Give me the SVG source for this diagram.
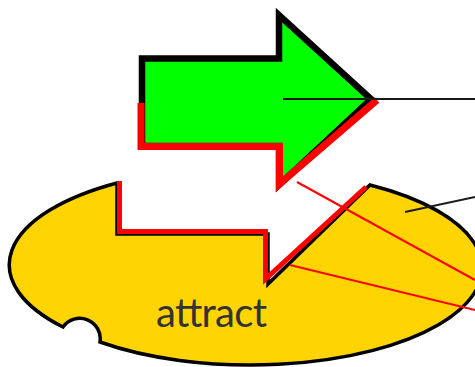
<svg xmlns="http://www.w3.org/2000/svg" width="475" height="367" viewBox="0 0 475 367">
  <style>
    .redline { fill: none; stroke: #ff0000; stroke-width: 2; }
    .blackline { fill: none; stroke: #1a1a1a; stroke-width: 1.8; }
    .label { font-family: Lato, "Open Sans", sans-serif; font-size: 40px; fill: #333333; }
  </style>
  <rect x="0" y="0" width="475" height="367" fill="#ffffff"/>
  <g id="node-ellipse">
    <path d="M370,185 A232,97 0 1 1 100,342 A20.5,20.5 0 0 0 63,327 A232,97 0 0 1 117,183 L117,234 L268,234 L268,284 Z" fill="#ffd400" stroke="#000000" stroke-width="3.5" stroke-linejoin="miter"/>
    <path d="M119.5,181 V231.5 H265.5 V279 L366,187" fill="none" stroke="#ff0000" stroke-width="5" stroke-linejoin="miter"/>
    <text class="label" x="156" y="327" textLength="111" lengthAdjust="spacing">attract</text>
  </g>
  <g id="node-arrow">
    <path d="M142,58.5 H279 V15 L371,99 L279,185 V146 H142 Z" fill="#00ff00" stroke="#000000" stroke-width="6.5" stroke-linejoin="miter"/>
    <path d="M141,103 V146.5 H279.5 V184 L377,100" fill="none" stroke="#ff0000" stroke-width="7" stroke-linejoin="miter"/>
  </g>
  <g id="connectors">
    <line class="blackline" x1="283" y1="99" x2="475" y2="99"/>
    <line class="blackline" x1="405" y1="212" x2="475" y2="197"/>
    <line class="redline" x1="297" y1="182" x2="475" y2="280"/>
    <line class="redline" x1="290" y1="265" x2="475" y2="310"/>
  </g>
</svg>
